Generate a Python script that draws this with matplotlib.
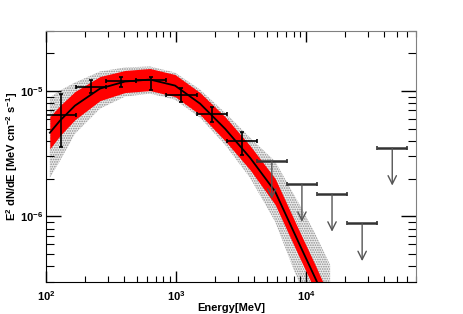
import matplotlib
matplotlib.use('Agg')
import matplotlib.pyplot as plt
import numpy as np

plt.rcParams['font.family'] = ['Liberation Sans', 'DejaVu Sans']
plt.rcParams['font.weight'] = 'bold'
plt.rcParams['mathtext.fontset'] = 'custom'
plt.rcParams['mathtext.rm'] = 'Liberation Sans:bold'
plt.rcParams['mathtext.it'] = 'Liberation Sans:bold'
plt.rcParams['mathtext.bf'] = 'Liberation Sans:bold'
plt.rcParams['mathtext.default'] = 'rm'
plt.rcParams['hatch.linewidth'] = 0.8

# fitted model and its error bands
model_e = [107, 128, 167, 260, 405, 631, 982, 1530, 2382, 3709, 5774, 8992, 11730, 15300]
model_f = [4.64e-6, 5.79e-6, 7.63e-6, 1.043e-5, 1.187e-5, 1.231e-5, 1.102e-5,
           7.91e-6, 4.99e-6, 2.93e-6, 1.58e-6, 5.84e-7, 3.24e-7, 1.76e-7]
red_dex = [0.128, 0.12, 0.112, 0.096, 0.088, 0.088, 0.088, 0.088, 0.096, 0.096,
           0.104, 0.104, 0.104, 0.104]
sys_up_dex = [0.28, 0.24, 0.184, 0.136, 0.112, 0.104, 0.104, 0.112, 0.128, 0.16,
              0.24, 0.32, 0.352, 0.368]
sys_dn_dex = [0.36, 0.32, 0.224, 0.16, 0.12, 0.112, 0.112, 0.112, 0.128, 0.16,
              0.24, 0.32, 0.352, 0.368]

# energy bins
edges = [100, 170, 290, 495, 843, 1437, 2449, 4175, 7114, 12120, 20660, 35210, 60000]

# flux points (first 7 bins)
flux = [6.4e-6, 1.08e-5, 1.19e-5, 1.21e-5, 9.2e-6, 6.6e-6, 4.0e-6]
flux_lo = [3.6e-6, 9.7e-6, 1.08e-5, 1.02e-5, 8.1e-6, 5.6e-6, 3.1e-6]
flux_hi = [9.4e-6, 1.23e-5, 1.28e-5, 1.30e-5, 1.06e-5, 7.5e-6, 4.7e-6]

# upper limits (last 5 bins)
ul = [2.77e-6, 1.81e-6, 1.51e-6, 8.8e-7, 3.52e-6]

fig = plt.figure(figsize=(4.63, 3.14), dpi=100)
ax = fig.add_axes([0.0994, 0.1019, 0.7991, 0.7994])
ax.set_xscale('log')
ax.set_yscale('log')

me = np.array(model_e)
mf = np.array(model_f)
rd = np.array(red_dex)
sys_lo = mf * 10 ** -np.array(sys_dn_dex)
sys_hi = mf * 10 ** np.array(sys_up_dex)

# dotted systematic band under the red statistical band
ax.fill_between(me, sys_lo, sys_hi, facecolor='#ececec', edgecolor='#8c8c8c',
                hatch='.......', lw=0, zorder=1)
ax.fill_between(me, mf * 10 ** -rd, mf * 10 ** rd, color='#ff0000', lw=0, zorder=2)
ax.plot(me, mf, color='black', lw=1.3, zorder=4)

ed = np.array(edges, dtype=float)
ctr = np.sqrt(ed[:-1] * ed[1:])
n = len(flux)
xe = [ctr[:n] - ed[:n], ed[1:n + 1] - ctr[:n]]
ye = [np.array(flux) - np.array(flux_lo), np.array(flux_hi) - np.array(flux)]
ax.errorbar(ctr[:n], flux, xerr=xe, yerr=ye, fmt='none', ecolor='black',
            elinewidth=1.2, capsize=1.5, capthick=1.2, zorder=5)

uc = ctr[n:]
uxe = [uc - ed[n:-1], ed[n + 1:] - uc]
ax.errorbar(uc, ul, xerr=uxe, fmt='none', ecolor='#333333', elinewidth=1.8,
            capsize=1.5, capthick=1.2, zorder=5)
for x, u in zip(uc, ul):
    ax.annotate('', xy=(x, u * 0.5), xytext=(x, u),
                arrowprops=dict(arrowstyle='->,head_length=0.6,head_width=0.3',
                                color='#555555', lw=1.0, shrinkA=0, shrinkB=0),
                zorder=5)

ax.set_xlim(100, 7e4)
ax.set_ylim(3e-7, 3e-5)

ax.tick_params(which='both', direction='in', top=True, right=True, labelsize=8)
ax.tick_params(axis='x', which='major', length=8, width=1, pad=5)
ax.tick_params(axis='x', which='minor', length=4, width=0.8)
ax.tick_params(axis='y', which='major', length=11, width=1, pad=2)
ax.tick_params(axis='y', which='minor', length=6, width=0.8)
ax.set_xticks([100, 1000, 10000])
ax.set_xticklabels([r'$10^{2}$', r'$10^{3}$', r'$10^{4}$'])
ax.set_yticks([1e-6, 1e-5])
ax.set_yticklabels([r'$10^{-6}$', r'$10^{-5}$'])
for s in ['left', 'bottom']:
    ax.spines[s].set_color('black')
for s in ['top', 'right']:
    ax.spines[s].set_color('#808080')

ax.set_xlabel('Energy[MeV]', fontsize=8, fontweight='bold', labelpad=0)
ax.set_ylabel(r'E$^{2}$ dN/dE [MeV cm$^{-2}$ s$^{-1}$]', fontsize=8,
              fontweight='bold', labelpad=0)

fig.savefig('out.png', dpi=100)
